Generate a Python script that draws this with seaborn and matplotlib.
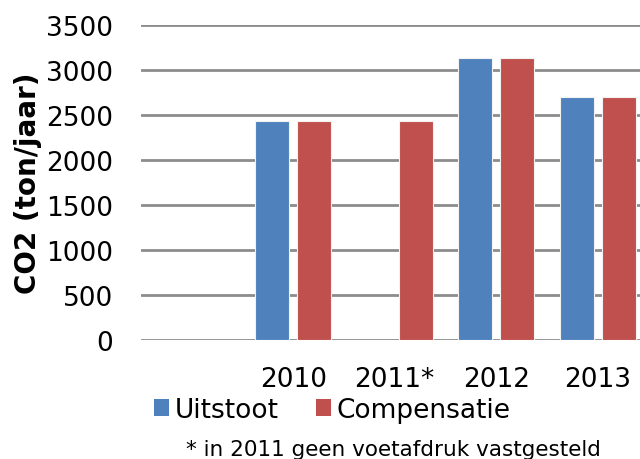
import numpy as np
import pandas as pd
import seaborn as sns
from matplotlib import pyplot as plt
from matplotlib.patches import Patch

years = ['', '2010', '2011*', '2012', '2013']
uitstoot = [np.nan, 2430, np.nan, 3130, 2700]
compensatie = [np.nan, 2430, 2430, 3130, 2700]
series = ['Uitstoot', 'Compensatie']
colors = ['#4F81BD', '#C0504D']
yticks = [0, 500, 1000, 1500, 2000, 2500, 3000, 3500]

df = pd.DataFrame({
    'jaar': years * 2,
    'serie': [series[0]] * len(years) + [series[1]] * len(years),
    'co2': uitstoot + compensatie,
})

sns.set_style('white')
plt.rcParams['font.family'] = ['DejaVu Sans']
plt.rcParams['text.color'] = 'black'
plt.rcParams['axes.labelcolor'] = 'black'
plt.rcParams['xtick.color'] = 'black'
plt.rcParams['ytick.color'] = 'black'

fig = plt.figure(figsize=(6.4, 4.6), dpi=100)
ax = fig.add_axes([141 / 640, 1 - 341 / 460, 507.5 / 640, 315 / 460])

# gridlines behind the bars
for v in yticks:
    ax.axhline(v, color='#8c8c8c', linewidth=2, zorder=0.5)

sns.barplot(data=df, x='jaar', y='co2', hue='serie', order=years,
            hue_order=series, palette=colors, saturation=1, width=0.83,
            gap=0.19, edgecolor='#f2f2f2', linewidth=0.8, ax=ax,
            legend=False)
for p in ax.patches:
    p.set_zorder(3)

ax.set_ylim(0, 3500)
ax.set_yticks(yticks)
ax.grid(False)
for s in ax.spines.values():
    s.set_visible(False)
ax.tick_params(axis='both', length=0, labelsize=19)
ax.tick_params(axis='x', pad=19)
ax.tick_params(axis='y', pad=20)
ax.set_xlabel('')
ax.set_ylabel('CO2 (ton/jaar)', fontsize=20, fontweight='bold', labelpad=3)

handles = [Patch(facecolor=c, edgecolor='none') for c in colors]
fig.legend(handles, series, loc='center', bbox_to_anchor=(0.519, 0.107),
           ncol=2, frameon=False, fontsize=19, handlelength=0.6,
           handleheight=0.6, handletextpad=0.2, columnspacing=1.4)

fig.text(0.614, 0.022, '* in 2011 geen voetafdruk vastgesteld',
         ha='center', va='center', fontsize=15.5)

fig.savefig('out.png', dpi=100)
